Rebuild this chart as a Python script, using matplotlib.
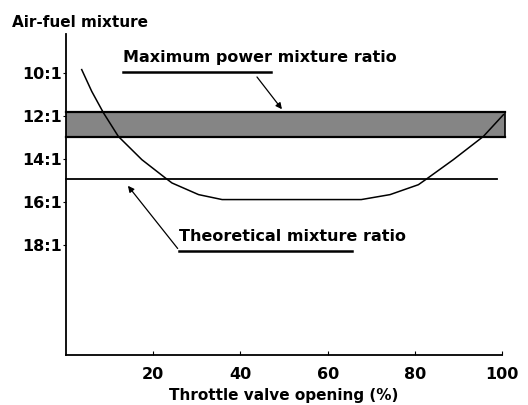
import matplotlib
matplotlib.use("Agg")
import matplotlib.pyplot as plt

plt.rcParams['font.family'] = ['DejaVu Sans']
plt.rcParams['font.weight'] = 'bold'

# throttle opening (%) vs air-fuel ratio (x:1)
curve_x = [3.6, 5.9, 8.6, 12.0, 17.4, 22.8, 24.3, 30.4, 35.8, 50.0, 67.7, 74.3, 80.8, 82.7, 88.8, 95.7, 100.3]
curve_y = [9.86, 10.87, 11.87, 12.96, 14.04, 14.89, 15.12, 15.66, 15.89, 15.89, 15.89, 15.66, 15.2, 14.93, 14.04, 12.96, 11.95]

band_x = [0, 100.7]
band_lo = [11.82, 11.82]
band_hi = [12.98, 12.98]

theory_x = [0, 98.8]
theory_y = [14.93, 14.93]

yticks = [10, 12, 14, 16, 18]
ytick_labels = ['10:1', '12:1', '14:1', '16:1', '18:1']
xticks = [20, 40, 60, 80, 100]

fig = plt.figure(figsize=(5.28, 4.05), dpi=100)
ax = fig.add_axes([0.125, 0.1235, 0.826, 0.793])

ax.fill_between(band_x, band_lo, band_hi, facecolor='#858585', edgecolor='none', clip_on=False)
ax.plot(band_x, band_lo, color='black', lw=1.6, clip_on=False)
ax.plot(band_x, band_hi, color='black', lw=1.6, clip_on=False)
ax.plot([band_x[1], band_x[1]], [band_lo[0], band_hi[0]], color='black', lw=1.2, clip_on=False)

ax.plot(theory_x, theory_y, color='black', lw=1.3, clip_on=False)
ax.plot(curve_x, curve_y, color='black', lw=1.1, clip_on=False)

ax.set_xlim(0, 100)
ax.set_ylim(23.1, 8.2)
ax.spines['top'].set_visible(False)
ax.spines['right'].set_visible(False)
ax.spines['left'].set_linewidth(1.3)
ax.spines['bottom'].set_linewidth(1.3)

ax.set_xticks(xticks)
ax.set_yticks(yticks)
ax.set_yticklabels(ytick_labels)
ax.tick_params(axis='x', direction='in', length=3, labelsize=11.5, pad=9)
ax.tick_params(axis='y', direction='out', length=2, labelsize=11.5, pad=1)

ax.set_xlabel('Throttle valve opening (%)', fontsize=11, fontweight='bold', labelpad=4)
fig.text(0.023, 0.945, 'Air-fuel mixture', fontsize=11, ha='left', va='center')

# labels with underline and arrow
ax.text(13.1, 9.3, 'Maximum power mixture ratio', fontsize=11.5, ha='left', va='center')
ax.plot([13.1, 47.0], [9.95, 9.95], color='black', lw=1.8)
ax.annotate('', xy=(49.9, 11.8), xytext=(43.4, 10.1),
            arrowprops=dict(arrowstyle='-|>', color='black', lw=0.9, mutation_scale=9))

ax.text(26.0, 17.6, 'Theoretical mixture ratio', fontsize=11.5, ha='left', va='center')
ax.plot([26.0, 65.5], [18.26, 18.26], color='black', lw=1.8)
ax.annotate('', xy=(13.8, 15.15), xytext=(26.0, 18.26),
            arrowprops=dict(arrowstyle='-|>', color='black', lw=0.9, mutation_scale=9))

fig.savefig('out.png', dpi=100)
